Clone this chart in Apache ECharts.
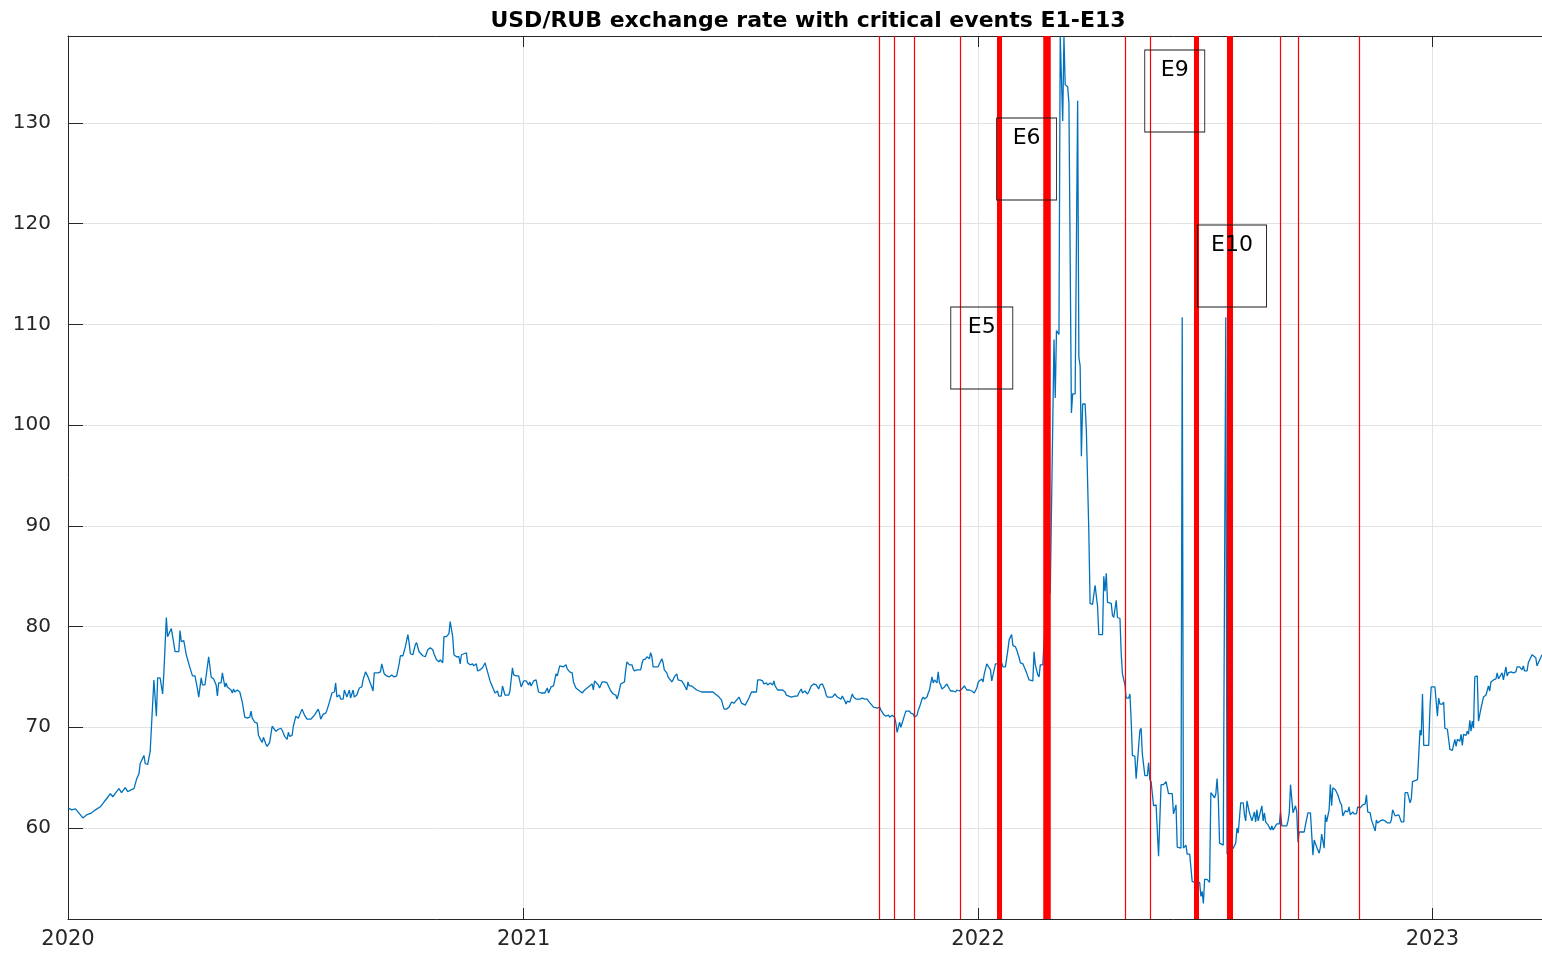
<!DOCTYPE html>
<html>
<head>
<meta charset="utf-8">
<title>USD/RUB exchange rate with critical events E1-E13</title>
<script src="https://cdn.jsdelivr.net/npm/echarts@6/dist/echarts.min.js"></script>
<style>
  html, body { margin: 0; padding: 0; background: #ffffff; }
  #chart { width: 1542px; height: 953px; }
</style>
</head>
<body>
<div id="chart"></div>
<script>
// USD/RUB rate, [date, roubles per dollar]
const rate2020 = [
  ['2020-01-01',62.0],['2020-01-04',61.8],['2020-01-07',61.9],['2020-01-11',61.3],['2020-01-13',61.0],['2020-01-16',61.3],['2020-01-20',61.5],['2020-01-23',61.8],['2020-01-27',62.1],['2020-01-30',62.6],
  ['2020-02-01',62.9],['2020-02-04',63.4],['2020-02-06',63.1],['2020-02-09',63.6],['2020-02-11',63.9],['2020-02-13',63.5],['2020-02-16',64.0],['2020-02-18',63.6],['2020-02-21',63.8],['2020-02-23',63.9],['2020-02-25',64.8],['2020-02-27',65.4],['2020-02-28',66.4],
  ['2020-03-02',67.2],['2020-03-03',66.4],['2020-03-05',66.3],['2020-03-07',67.6],['2020-03-08',67.6],['2020-03-10',74.7],['2020-03-12',71.1],['2020-03-13',74.9],['2020-03-15',74.9],['2020-03-17',73.3],['2020-03-18',75.4],['2020-03-20',80.9],['2020-03-21',79.0],['2020-03-22',79.0],['2020-03-24',79.8],['2020-03-26',78.3],['2020-03-27',77.5],['2020-03-30',77.5],['2020-03-31',79.6],
  ['2020-04-01',78.5],['2020-04-03',78.6],['2020-04-05',77.2],['2020-04-06',77.1],['2020-04-08',75.9],['2020-04-10',75.1],['2020-04-12',75.1],['2020-04-14',73.8],['2020-04-15',73.0],['2020-04-17',74.9],['2020-04-18',74.2],['2020-04-20',74.2],['2020-04-23',77.0],['2020-04-25',75.0],['2020-04-27',74.8],['2020-04-29',74.2],['2020-04-30',73.1],
  ['2020-05-01',74.4],['2020-05-03',74.4],['2020-05-04',75.4],['2020-05-06',74.0],['2020-05-07',74.4],['2020-05-08',74.0],['2020-05-11',73.7],['2020-05-12',73.4],['2020-05-13',73.8],['2020-05-14',73.5],['2020-05-16',73.7],['2020-05-18',73.5],['2020-05-20',72.5],['2020-05-22',71.0],['2020-05-24',70.9],['2020-05-26',71.0],['2020-05-27',71.6],['2020-05-28',70.9],['2020-05-30',70.5],
  ['2020-06-01',70.4],['2020-06-02',69.2],['2020-06-04',68.7],['2020-06-05',68.5],['2020-06-06',69.0],['2020-06-08',68.3],['2020-06-09',68.1],['2020-06-11',68.5],['2020-06-13',70.1],['2020-06-14',70.1],['2020-06-16',69.6],['2020-06-18',69.8],['2020-06-20',69.9],['2020-06-21',69.7],['2020-06-23',69.1],['2020-06-25',68.8],['2020-06-26',69.5],['2020-06-27',69.1],['2020-06-29',69.2],['2020-06-30',70.1],
  ['2020-07-02',71.1],['2020-07-04',70.9],['2020-07-05',71.0],['2020-07-07',71.8],['2020-07-09',71.2],['2020-07-11',70.8],['2020-07-14',70.8],['2020-07-17',71.2],['2020-07-20',71.8],['2020-07-21',71.4],['2020-07-22',70.8],['2020-07-24',71.3],['2020-07-26',71.4],['2020-07-27',71.7],['2020-07-29',72.5],['2020-07-31',73.4],
  ['2020-08-02',73.5],['2020-08-03',74.4],['2020-08-04',73.0],['2020-08-06',73.2],['2020-08-07',72.8],['2020-08-09',72.8],['2020-08-10',73.7],['2020-08-12',73.0],['2020-08-14',73.7],['2020-08-15',72.9],['2020-08-17',73.7],['2020-08-18',73.0],['2020-08-20',73.2],['2020-08-22',73.9],['2020-08-24',74.0],['2020-08-25',74.7],['2020-08-27',75.5],['2020-08-29',75.0],['2020-08-30',75.0],
  ['2020-09-01',74.0],['2020-09-02',73.6],['2020-09-03',75.4],['2020-09-06',75.4],['2020-09-08',75.5],['2020-09-09',76.3],['2020-09-11',75.3],['2020-09-13',75.1],['2020-09-14',75.2],['2020-09-15',75.0],['2020-09-17',75.2],['2020-09-19',75.0],['2020-09-21',75.1],['2020-09-23',76.3],['2020-09-24',77.1],['2020-09-26',77.1],['2020-09-28',78.0],['2020-09-30',79.2],
  ['2020-10-01',78.4],['2020-10-02',77.3],['2020-10-04',77.2],['2020-10-06',78.2],['2020-10-07',78.4],['2020-10-09',77.5],['2020-10-10',77.5],['2020-10-12',77.1],['2020-10-14',77.0],['2020-10-16',77.7],['2020-10-18',77.9],['2020-10-20',77.7],['2020-10-21',77.3],['2020-10-23',76.7],['2020-10-25',76.5],['2020-10-26',76.7],['2020-10-28',76.4],['2020-10-29',79.0],['2020-10-31',79.0],
  ['2020-11-02',79.3],['2020-11-03',80.5],['2020-11-05',79.0],['2020-11-06',77.2],['2020-11-08',77.0],['2020-11-10',77.0],['2020-11-11',76.3],['2020-11-12',77.2],['2020-11-14',77.3],['2020-11-16',77.4],['2020-11-17',76.4],['2020-11-19',76.2],['2020-11-21',76.3],['2020-11-22',76.1],['2020-11-24',76.3],['2020-11-25',75.6],['2020-11-27',75.7],['2020-11-29',75.9],
  ['2020-12-01',76.4],['2020-12-03',75.5],['2020-12-05',74.6],['2020-12-06',74.3],['2020-12-08',73.7],['2020-12-09',73.4],['2020-12-11',73.6],['2020-12-12',73.1],['2020-12-14',73.1],['2020-12-15',74.1],['2020-12-17',73.2],['2020-12-18',73.1],['2020-12-20',73.2],['2020-12-21',73.6],['2020-12-23',75.9],['2020-12-24',75.2],['2020-12-26',75.1],['2020-12-28',75.1],['2020-12-30',74.0],['2020-12-31',74.0]
];

const rate2021 = [
  ['2021-01-01',74.6],['2021-01-03',74.6],['2021-01-05',74.2],['2021-01-06',74.5],['2021-01-07',74.1],['2021-01-09',74.6],['2021-01-11',74.7],['2021-01-12',74.6],['2021-01-13',73.5],['2021-01-15',73.4],['2021-01-18',73.4],['2021-01-20',73.9],['2021-01-21',73.4],['2021-01-23',74.0],['2021-01-25',74.1],['2021-01-27',75.3],['2021-01-28',75.1],['2021-01-30',76.1],['2021-01-31',76.2],
  ['2021-02-02',76.0],['2021-02-04',76.2],['2021-02-05',75.8],['2021-02-07',75.5],['2021-02-09',75.4],['2021-02-10',74.5],['2021-02-12',73.9],['2021-02-14',73.7],['2021-02-15',73.7],['2021-02-17',73.4],['2021-02-19',73.7],['2021-02-21',73.9],['2021-02-23',74.1],['2021-02-25',74.3],['2021-02-26',73.7],['2021-02-27',74.6],['2021-02-28',74.7],
  ['2021-03-02',74.2],['2021-03-03',73.9],['2021-03-05',74.5],['2021-03-07',74.5],['2021-03-09',74.4],['2021-03-10',74.4],['2021-03-12',73.6],['2021-03-14',73.3],['2021-03-16',73.2],['2021-03-17',72.8],['2021-03-18',73.2],['2021-03-20',74.3],['2021-03-21',74.4],['2021-03-23',74.5],['2021-03-24',75.7],['2021-03-25',76.5],['2021-03-27',76.2],['2021-03-29',76.2],['2021-03-30',75.8],['2021-03-31',75.6],
  ['2021-04-02',75.7],['2021-04-03',75.7],['2021-04-05',75.7],['2021-04-06',76.3],['2021-04-07',76.7],['2021-04-09',76.8],['2021-04-10',77.0],['2021-04-12',76.8],['2021-04-13',77.4],['2021-04-14',77.0],['2021-04-15',76.0],['2021-04-17',76.0],['2021-04-19',76.0],['2021-04-20',76.1],['2021-04-22',76.8],['2021-04-23',76.4],['2021-04-24',75.7],['2021-04-26',75.4],['2021-04-27',75.0],['2021-04-28',75.0],['2021-04-30',74.5],
  ['2021-05-01',74.7],['2021-05-02',75.0],['2021-05-04',75.3],['2021-05-05',74.7],['2021-05-06',74.7],['2021-05-08',74.6],['2021-05-09',74.7],['2021-05-10',74.2],['2021-05-12',73.7],['2021-05-13',74.5],['2021-05-14',74.1],['2021-05-16',74.1],['2021-05-18',73.9],['2021-05-20',73.7],['2021-05-22',73.6],['2021-05-24',73.5],['2021-05-26',73.5],['2021-05-28',73.5],['2021-05-30',73.5],
  ['2021-06-02',73.5],['2021-06-03',73.4],['2021-06-05',73.2],['2021-06-07',73.0],['2021-06-09',72.7],['2021-06-10',72.2],['2021-06-11',71.8],['2021-06-13',71.8],['2021-06-15',72.0],['2021-06-17',72.5],['2021-06-19',72.4],['2021-06-21',72.7],['2021-06-23',73.0],['2021-06-24',72.7],['2021-06-25',72.4],['2021-06-28',72.2],['2021-06-29',72.2],
  ['2021-07-01',72.9],['2021-07-03',73.5],['2021-07-05',73.5],['2021-07-07',73.5],['2021-07-08',74.7],['2021-07-10',74.7],['2021-07-12',74.6],['2021-07-13',74.3],['2021-07-15',74.4],['2021-07-16',74.2],['2021-07-18',74.4],['2021-07-20',74.2],['2021-07-21',74.6],['2021-07-22',74.1],['2021-07-24',73.7],['2021-07-26',73.7],['2021-07-28',73.7],['2021-07-30',73.5],['2021-07-31',73.2],
  ['2021-08-02',73.1],['2021-08-04',73.0],['2021-08-07',73.1],['2021-08-09',73.1],['2021-08-10',73.4],['2021-08-12',73.8],['2021-08-13',73.4],['2021-08-15',73.6],['2021-08-17',73.3],['2021-08-18',73.5],['2021-08-20',74.1],['2021-08-22',74.3],['2021-08-24',74.2],['2021-08-26',73.8],['2021-08-27',74.2],['2021-08-29',74.3],['2021-08-31',73.7],
  ['2021-09-01',73.2],['2021-09-02',73.0],['2021-09-04',73.0],['2021-09-06',73.0],['2021-09-08',73.3],['2021-09-10',73.0],['2021-09-11',73.0],['2021-09-13',72.8],['2021-09-14',73.1],['2021-09-16',72.6],['2021-09-17',72.3],['2021-09-18',72.6],['2021-09-20',72.5],['2021-09-22',73.3],['2021-09-23',73.0],['2021-09-25',72.8],['2021-09-28',72.8],['2021-09-30',72.9],
  ['2021-10-02',72.8],['2021-10-04',72.8],['2021-10-05',72.6],['2021-10-07',72.3],['2021-10-09',72.0],['2021-10-10',71.9],['2021-10-12',71.9],['2021-10-14',72.0],['2021-10-15',71.7],['2021-10-17',71.3],['2021-10-19',71.1],['2021-10-21',71.2],['2021-10-22',71.0],['2021-10-24',71.2],['2021-10-26',71.0],['2021-10-27',70.4],['2021-10-28',69.5],['2021-10-30',70.5],['2021-10-31',70.0],
  ['2021-11-01',70.1],['2021-11-03',71.2],['2021-11-04',71.6],['2021-11-05',71.7],['2021-11-07',71.6],['2021-11-08',71.4],['2021-11-10',71.3],['2021-11-11',71.0],['2021-11-13',71.2],['2021-11-14',71.7],['2021-11-15',72.0],['2021-11-17',72.8],['2021-11-18',73.0],['2021-11-19',72.8],['2021-11-21',73.0],['2021-11-22',73.4],['2021-11-23',73.7],['2021-11-25',75.0],['2021-11-26',74.4],['2021-11-27',74.7],['2021-11-29',74.4],['2021-11-30',75.5],
  ['2021-12-01',74.4],['2021-12-02',74.2],['2021-12-03',73.8],['2021-12-05',74.0],['2021-12-06',74.1],['2021-12-07',74.3],['2021-12-09',73.8],['2021-12-10',73.6],['2021-12-12',73.6],['2021-12-14',73.5],['2021-12-15',73.7],['2021-12-17',73.6],['2021-12-18',73.7],['2021-12-19',73.8],['2021-12-21',74.1],['2021-12-22',74.0],['2021-12-23',73.7],['2021-12-25',73.7],['2021-12-27',73.6],['2021-12-29',73.4],['2021-12-31',73.9]
];

const rate2022 = [
  ['2022-01-01',74.4],['2022-01-02',74.6],['2022-01-04',74.8],['2022-01-05',74.5],['2022-01-06',75.3],['2022-01-08',76.3],['2022-01-09',76.3],['2022-01-11',75.7],['2022-01-12',74.6],['2022-01-13',74.5],['2022-01-15',76.3],['2022-01-17',76.3],['2022-01-19',76.8],['2022-01-21',76.0],['2022-01-23',76.0],['2022-01-25',77.7],['2022-01-26',78.7],['2022-01-28',79.2],['2022-01-29',78.1],['2022-01-31',78.0],
  ['2022-02-01',77.7],['2022-02-03',76.9],['2022-02-04',76.4],['2022-02-06',76.3],['2022-02-07',76.3],['2022-02-09',75.4],['2022-02-11',74.7],['2022-02-12',74.8],['2022-02-14',74.6],['2022-02-15',77.5],['2022-02-16',76.2],['2022-02-18',75.2],['2022-02-19',75.0],['2022-02-20',76.2],['2022-02-22',76.2],['2022-02-24',80.4],['2022-02-26',84.0],['2022-02-28',83.3],
  ['2022-03-03',108.5],['2022-03-04',102.7],['2022-03-05',109.4],['2022-03-06',109.4],['2022-03-07',109.0],['2022-03-08',138.6],['2022-03-10',130.2],['2022-03-11',138.6],['2022-03-12',133.8],['2022-03-14',133.6],['2022-03-15',132.0],['2022-03-17',101.2],['2022-03-18',103.1],['2022-03-20',103.1],['2022-03-22',132.2],['2022-03-23',106.7],['2022-03-24',105.9],['2022-03-25',96.9],['2022-03-26',102.1],['2022-03-28',102.1],['2022-03-29',99.5],['2022-03-31',89.3],
  ['2022-04-01',82.3],['2022-04-03',82.2],['2022-04-05',84.1],['2022-04-06',84.0],['2022-04-07',82.0],['2022-04-08',79.2],['2022-04-11',79.2],['2022-04-12',85.0],['2022-04-13',83.5],['2022-04-14',85.3],['2022-04-15',82.4],['2022-04-18',82.3],['2022-04-19',81.1],['2022-04-20',80.9],['2022-04-22',82.6],['2022-04-23',80.9],['2022-04-25',80.8],['2022-04-26',77.3],['2022-04-27',75.3],['2022-04-29',74.2],['2022-04-30',72.9],
  ['2022-05-02',72.9],['2022-05-03',73.3],['2022-05-04',70.7],['2022-05-05',67.2],['2022-05-07',67.1],['2022-05-08',64.9],['2022-05-09',64.9],['2022-05-11',69.7],['2022-05-12',69.9],['2022-05-13',67.3],['2022-05-15',65.2],['2022-05-17',65.2],['2022-05-18',66.5],['2022-05-19',64.8],['2022-05-20',64.6],['2022-05-22',62.2],['2022-05-24',62.3],['2022-05-25',62.4],['2022-05-26',57.2],['2022-05-28',64.3],['2022-05-30',64.3],['2022-05-31',64.2],
  ['2022-06-01',64.6],['2022-06-03',63.4],['2022-06-04',63.5],['2022-06-06',63.4],['2022-06-07',61.4],['2022-06-09',62.3],['2022-06-10',58.1],['2022-06-11',58.0],['2022-06-13',58.0],['2022-06-14',110.7],['2022-06-15',58.0],['2022-06-17',58.3],['2022-06-18',57.4],['2022-06-20',57.4],['2022-06-21',57.3],['2022-06-22',54.7],['2022-06-24',54.6],['2022-06-26',54.6],['2022-06-28',54.6],['2022-06-29',53.2],['2022-06-30',53.7],
  ['2022-07-01',52.5],['2022-07-02',54.9],['2022-07-04',54.9],['2022-07-06',54.6],['2022-07-07',63.5],['2022-07-08',63.4],['2022-07-10',63.0],['2022-07-11',63.4],['2022-07-12',64.9],['2022-07-13',62.9],['2022-07-14',58.5],['2022-07-17',58.3],['2022-07-18',58.3],['2022-07-19',110.7],['2022-07-20',57.4],['2022-07-22',57.8],['2022-07-25',58.0],['2022-07-27',58.5],['2022-07-28',60.0],['2022-07-29',59.5],['2022-07-31',62.5],
  ['2022-08-02',62.5],['2022-08-03',61.3],['2022-08-04',60.7],['2022-08-05',62.7],['2022-08-07',61.5],['2022-08-08',61.6],['2022-08-09',60.7],['2022-08-11',61.6],['2022-08-12',60.6],['2022-08-13',61.8],['2022-08-14',60.7],['2022-08-15',60.7],['2022-08-17',62.2],['2022-08-18',60.7],['2022-08-19',61.5],['2022-08-20',60.6],['2022-08-22',60.3],['2022-08-24',59.8],['2022-08-25',60.2],['2022-08-26',59.8],['2022-08-28',60.2],['2022-08-29',60.4],['2022-08-31',60.4],
  ['2022-09-01',61.6],['2022-09-02',60.2],['2022-09-04',60.2],['2022-09-06',60.2],['2022-09-07',60.7],['2022-09-08',61.5],['2022-09-09',64.3],['2022-09-11',61.5],['2022-09-12',61.4],['2022-09-13',62.2],['2022-09-14',61.6],['2022-09-15',58.6],['2022-09-16',59.6],['2022-09-18',59.6],['2022-09-20',59.6],['2022-09-21',60.3],['2022-09-23',61.5],['2022-09-25',61.5],['2022-09-27',57.3],['2022-09-28',58.8],['2022-09-29',58.8],['2022-09-30',58.1],
  ['2022-10-02',57.5],['2022-10-03',58.1],['2022-10-04',59.4],['2022-10-06',58.0],['2022-10-07',61.3],['2022-10-08',60.6],['2022-10-10',61.8],['2022-10-11',64.3],['2022-10-12',62.2],['2022-10-13',64.0],['2022-10-15',63.8],['2022-10-16',63.9],['2022-10-17',63.3],['2022-10-19',62.5],['2022-10-20',62.3],['2022-10-21',61.2],['2022-10-23',61.7],['2022-10-25',61.6],['2022-10-26',62.1],['2022-10-27',61.3],['2022-10-29',61.6],['2022-10-30',61.4],
  ['2022-11-01',61.4],['2022-11-02',62.1],['2022-11-04',62.0],['2022-11-06',62.3],['2022-11-08',62.4],['2022-11-09',63.3],['2022-11-10',61.6],['2022-11-12',61.5],['2022-11-13',60.8],['2022-11-14',60.7],['2022-11-16',59.7],['2022-11-17',60.8],['2022-11-18',60.5],['2022-11-20',60.7],['2022-11-22',60.8],['2022-11-24',60.7],['2022-11-26',60.5],['2022-11-28',60.5],['2022-11-29',60.8],['2022-11-30',61.8],
  ['2022-12-02',61.2],['2022-12-03',61.2],['2022-12-05',61.3],['2022-12-07',60.6],['2022-12-09',60.6],['2022-12-10',63.5],['2022-12-12',63.5],['2022-12-14',62.5],['2022-12-15',62.9],['2022-12-16',64.6],['2022-12-18',64.7],['2022-12-20',64.8],['2022-12-22',69.7],['2022-12-23',69.2],['2022-12-24',73.3],['2022-12-25',68.2],['2022-12-27',68.2],['2022-12-29',68.2],['2022-12-30',71.9],['2022-12-31',74.0]
];

const rate2023 = [
  ['2023-01-03',74.0],['2023-01-04',74.0],['2023-01-05',71.1],['2023-01-06',72.9],['2023-01-07',72.3],['2023-01-09',72.3],['2023-01-10',72.5],['2023-01-11',69.9],['2023-01-13',69.8],['2023-01-15',67.8],['2023-01-16',67.8],['2023-01-17',67.7],['2023-01-19',68.8],['2023-01-20',68.1],['2023-01-21',68.8],['2023-01-23',68.6],['2023-01-24',69.3],['2023-01-25',68.2],['2023-01-26',69.3],['2023-01-28',69.2],['2023-01-29',69.6],['2023-01-30',69.3],['2023-01-31',70.7],
  ['2023-02-01',69.6],['2023-02-02',70.6],['2023-02-03',69.9],['2023-02-04',75.0],['2023-02-06',75.1],['2023-02-07',70.6],['2023-02-09',71.9],['2023-02-10',71.8],['2023-02-11',73.0],['2023-02-13',73.2],['2023-02-15',74.1],['2023-02-16',73.6],['2023-02-17',74.5],['2023-02-19',74.7],['2023-02-21',74.8],['2023-02-22',75.4],['2023-02-23',74.8],['2023-02-25',75.2],['2023-02-26',75.4],['2023-02-27',74.7],
  ['2023-03-01',76.0],['2023-03-02',75.1],['2023-03-03',75.4],['2023-03-05',75.5],['2023-03-07',75.4],['2023-03-09',75.5],['2023-03-10',76.0],['2023-03-11',75.9],['2023-03-12',76.0],['2023-03-14',75.7],['2023-03-15',76.1],['2023-03-16',75.6],['2023-03-18',75.6],['2023-03-19',76.4],['2023-03-20',76.5],['2023-03-22',77.2],['2023-03-23',77.3],['2023-03-25',76.9],['2023-03-26',76.1],['2023-03-27',76.1],['2023-03-30',77.2]
];

// Critical events E1-E13
const eventNames = ['E1','E2','E3','E4','E5','E6','E7','E8','E9','E10','E11','E12','E13'];
const eventDates = ['2021-10-14','2021-10-26','2021-11-11','2021-12-18','2022-01-18','2022-02-25',
                    '2022-04-29','2022-05-19','2022-06-25','2022-07-22','2022-09-01','2022-09-15','2022-11-03'];

// Axis range and year tick labels
const dateStart = '2020-01-01';
const dateEnd = '2023-03-30';
const rateMin = 50.96;
const rateMax = 138.64;
const yearLabels = ['2020', '2021', '2022', '2023'];

// ---- styling ----
const INK = '#262626';
const GRID = '#e3e3e3';
const FONT = 'DejaVu Sans';
const YEAR_MS = 365 * 24 * 3600 * 1000;

// heavier strokes for the key events
const eventLineWidth = { E5: 5, E6: 7.5, E9: 5, E10: 6 };

// boxed labels for key events: anchor date / rate level of the box centre
const boxedLabels = [
  { name: 'E5',  date: '2022-01-04', level: 107.66, size: [62, 82] },
  { name: 'E6',  date: '2022-02-09', level: 126.43, size: [60, 82] },
  { name: 'E9',  date: '2022-06-08', level: 133.18, size: [60, 82] },
  { name: 'E10', date: '2022-07-24', level: 115.8,  size: [69, 82] }
];

const rates = rate2020.concat(rate2021, rate2022, rate2023);

const chart = echarts.init(document.getElementById('chart'), null, { renderer: 'canvas' });

const timeAxisBase = {
  type: 'time',
  min: dateStart,
  max: dateEnd,
  minInterval: YEAR_MS,
  maxInterval: YEAR_MS + 24 * 3600 * 1000
};

chart.setOption({
  animation: false,
  backgroundColor: '#ffffff',
  title: {
    text: 'USD/RUB exchange rate with critical events E1-E13',
    left: 803,
    top: 5,
    textAlign: 'center',
    textStyle: { fontFamily: FONT, fontWeight: 'bold', fontSize: 22, color: '#000000' }
  },
  grid: { left: 68, right: 0, top: 36, bottom: 34, containLabel: false },
  xAxis: [
    Object.assign({}, timeAxisBase, {
      position: 'bottom',
      axisLine: { show: true, lineStyle: { color: INK, width: 1 } },
      axisTick: { show: true, inside: true, length: 11, lineStyle: { color: INK, width: 1 } },
      axisLabel: {
        show: true,
        margin: 10,
        color: INK,
        fontFamily: FONT,
        fontSize: 21,
        hideOverlap: false,
        formatter: function (v) {
          const y = String(new Date(v).getFullYear());
          return yearLabels.indexOf(y) >= 0 ? y : '';
        }
      },
      splitLine: { show: true, lineStyle: { color: GRID, width: 1 } }
    }),
    Object.assign({}, timeAxisBase, {
      position: 'top',
      axisLine: { show: true, lineStyle: { color: INK, width: 1 } },
      axisTick: { show: true, inside: true, length: 11, lineStyle: { color: INK, width: 1 } },
      axisLabel: { show: false },
      splitLine: { show: false }
    })
  ],
  yAxis: {
    type: 'value',
    min: rateMin,
    max: rateMax,
    splitNumber: 8,
    axisLine: { show: true, lineStyle: { color: INK, width: 1 } },
    axisTick: { show: true, inside: true, length: 15, lineStyle: { color: INK, width: 1 } },
    axisLabel: {
      margin: 17,
      color: INK,
      fontFamily: FONT,
      fontSize: 20,
      showMinLabel: false,
      showMaxLabel: false,
      formatter: function (v) { return Math.abs(v % 10) < 1e-6 ? String(v) : ''; }
    },
    splitLine: { show: true, lineStyle: { color: GRID, width: 1 } }
  },
  series: [
    {
      name: 'USD/RUB',
      type: 'line',
      xAxisIndex: 0,
      data: rates,
      showSymbol: false,
      symbol: 'none',
      sampling: null,
      lineStyle: { color: '#0072BD', width: 1.3 },
      z: 2,
      markLine: {
        silent: true,
        symbol: ['none', 'none'],
        label: { show: false },
        animation: false,
        data: eventNames.map(function (name, i) {
          return {
            name: name,
            xAxis: eventDates[i],
            lineStyle: { color: '#ff0000', type: 'solid', width: eventLineWidth[name] || 1.2 }
          };
        })
      },
      markPoint: {
        silent: true,
        animation: false,
        data: boxedLabels.map(function (b) {
          return {
            name: b.name,
            coord: [b.date, b.level],
            symbol: 'rect',
            symbolSize: b.size,
            itemStyle: { color: 'rgba(255,255,255,0)', borderColor: '#1a1a1a', borderWidth: 1 },
            label: {
              show: true,
              formatter: b.name,
              position: 'insideTop',
              distance: 10,
              color: '#000000',
              fontFamily: FONT,
              fontSize: 22
            }
          };
        })
      }
    }
  ]
});
</script>
</body>
</html>
